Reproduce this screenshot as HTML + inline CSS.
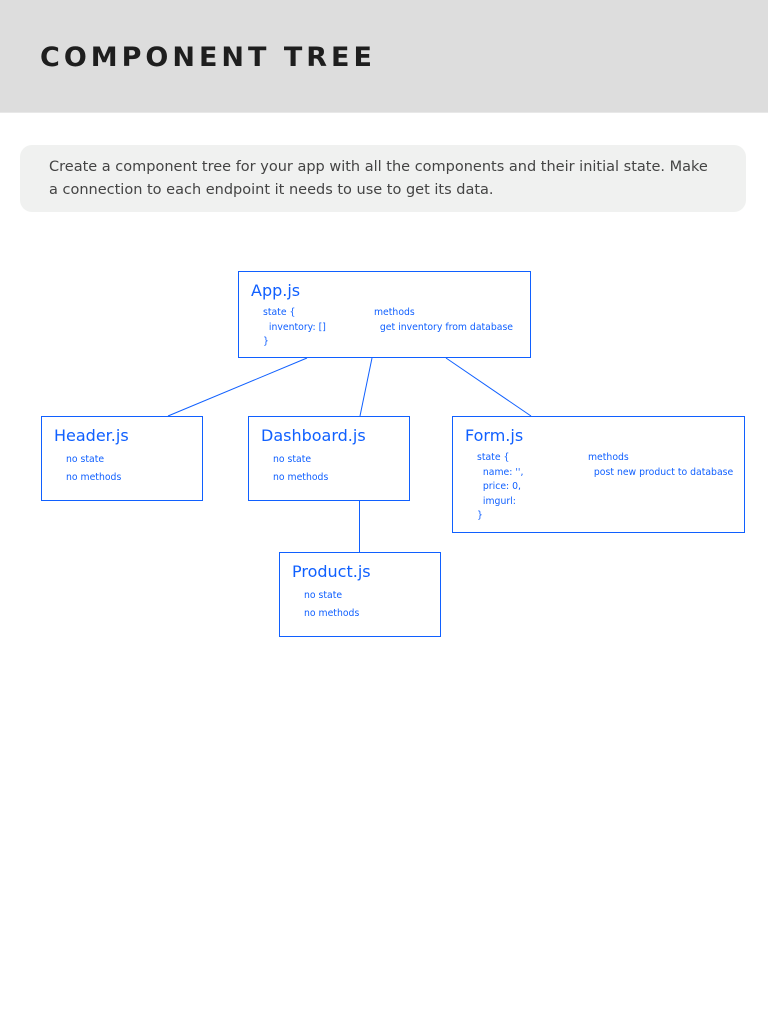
<!DOCTYPE html>
<html><head><style>
body{margin:0;width:768px;height:1024px;background:#fff;position:relative;font-family:"DejaVu Sans","Liberation Sans",sans-serif;overflow:hidden}
.hdr{position:absolute;left:0;top:0;width:768px;height:112px;background:#dddddd;border-bottom:1px solid #e8e8e8}
.hdr h1{position:absolute;left:40px;top:42px;margin:0;font-size:27px;font-weight:bold;letter-spacing:4px;color:#1e1e1e}
.note{position:absolute;left:20px;top:145px;width:726px;height:67px;background:#f0f1f0;border-radius:12px}
.note p{margin:0;position:absolute;left:29px;top:11px;font-size:14.5px;line-height:23px;color:#444;width:668px}
.b{position:absolute;border:1px solid #1060ff;color:#1060ff;box-sizing:border-box}
.t{position:absolute;left:12px;top:9px;font-size:16px}
.s{position:absolute;font-size:9.3px;line-height:14.5px;white-space:pre}
</style></head><body>
<div class="hdr"><h1>COMPONENT TREE</h1></div>
<div class="note"><p>Create a component tree for your app with all the components and their initial state. Make a connection to each endpoint it needs to use to get its data.</p></div>
<svg width="768" height="1024" style="position:absolute;left:0;top:0">
<g stroke="#1060ff" stroke-width="1">
<line x1="307" y1="358" x2="168" y2="416"/>
<line x1="372" y1="358" x2="360" y2="416"/>
<line x1="446" y1="358" x2="531" y2="416"/>
<line x1="359.5" y1="500" x2="359.5" y2="552"/>
</g></svg>
<div class="b" style="left:238px;top:271px;width:293px;height:87px">
<div class="t">App.js</div>
<div class="s" style="left:24px;top:34px">state {
  inventory: []
}</div>
<div class="s" style="left:135px;top:34px">methods
  get inventory from database</div>
</div>
<div class="b" style="left:41px;top:416px;width:162px;height:85px">
<div class="t">Header.js</div>
<div class="s" style="left:24px;top:34px;line-height:18px">no state
no methods</div>
</div>
<div class="b" style="left:248px;top:416px;width:162px;height:85px">
<div class="t">Dashboard.js</div>
<div class="s" style="left:24px;top:34px;line-height:18px">no state
no methods</div>
</div>
<div class="b" style="left:452px;top:416px;width:293px;height:117px">
<div class="t">Form.js</div>
<div class="s" style="left:24px;top:34px">state {
  name: '',
  price: 0,
  imgurl:
}</div>
<div class="s" style="left:135px;top:34px">methods
  post new product to database</div>
</div>
<div class="b" style="left:279px;top:552px;width:162px;height:85px">
<div class="t">Product.js</div>
<div class="s" style="left:24px;top:34px;line-height:18px">no state
no methods</div>
</div>
</body></html>
